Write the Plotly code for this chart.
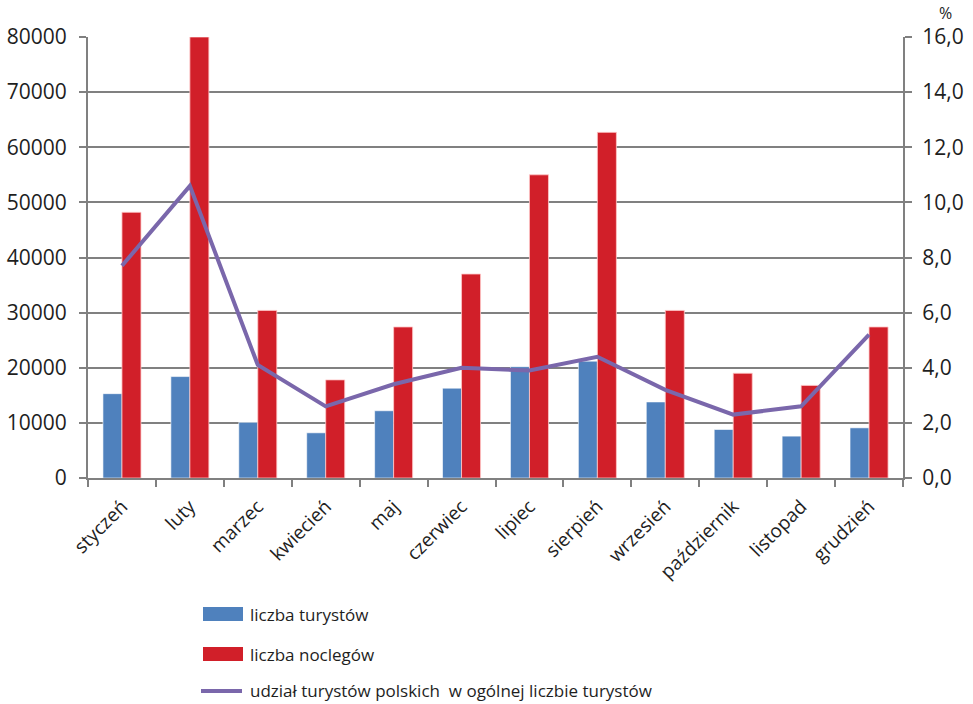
import plotly.graph_objects as go

# Monthly tourism data
months = ["styczeń", "luty", "marzec", "kwiecień", "maj", "czerwiec",
          "lipiec", "sierpień", "wrzesień", "październik", "listopad", "grudzień"]
tourists = [15300, 18400, 10100, 8200, 12200, 16300, 20200, 21200, 13800, 8800, 7600, 9100]
overnight_stays = [48200, 80000, 30400, 17800, 27400, 37000, 55000, 62700, 30400, 19000, 16800, 27400]
polish_share = [7.7, 10.6, 4.1, 2.6, 3.4, 4.0, 3.9, 4.4, 3.2, 2.3, 2.6, 5.2]

legend_labels = ["liczba turystów", "liczba noclegów",
                 "udział turystów polskich  w ogólnej liczbie turystów"]

BLUE = "#4F81BD"
RED = "#D11F29"
PURPLE = "#7A67AB"
GRID = "#808080"
TEXT = "#1E1E1E"
FONT = "Open Sans"

fig = go.Figure()
fig.add_trace(go.Bar(x=months, y=tourists, name=legend_labels[0],
                     marker=dict(color=BLUE, line=dict(color="rgba(255,255,255,0.6)", width=1))))
fig.add_trace(go.Bar(x=months, y=overnight_stays, name=legend_labels[1],
                     marker=dict(color=RED, line=dict(color="rgba(255,200,200,0.8)", width=1))))
fig.add_trace(go.Scatter(x=months, y=polish_share, name=legend_labels[2], yaxis="y2",
                         mode="lines", line=dict(color=PURPLE, width=4)))

fig.update_layout(
    width=973, height=704,
    margin=dict(l=88, r=70, t=37, b=226, autoexpand=False),
    paper_bgcolor="white", plot_bgcolor="white",
    barmode="group", bargap=0.44, bargroupgap=0,
    separators=",.",
    showlegend=False,
    font=dict(family=FONT, color=TEXT),
    xaxis=dict(
        type="category", tickangle=-45, tickson="boundaries",
        ticks="outside", ticklen=7, tickwidth=2, tickcolor=GRID,
        showline=True, linecolor=GRID, linewidth=2, showgrid=False,
        ticklabelstandoff=8, automargin=False,
        tickfont=dict(size=19, family=FONT, color=TEXT),
    ),
    yaxis=dict(
        range=[0, 80000], dtick=10000, tickformat="d",
        ticks="outside", ticklen=7, tickwidth=2, tickcolor=GRID,
        showline=True, linecolor=GRID, linewidth=2,
        showgrid=True, gridcolor=GRID, gridwidth=2, zeroline=False,
        ticklabelstandoff=8, automargin=False,
        tickfont=dict(size=21, family=FONT, color=TEXT),
    ),
    yaxis2=dict(
        range=[0, 16], dtick=2, tickformat=".1f", overlaying="y", side="right",
        ticks="outside", ticklen=7, tickwidth=2, tickcolor=GRID,
        showline=True, linecolor=GRID, linewidth=2,
        showgrid=False, zeroline=False,
        ticklabelstandoff=6, automargin=False,
        tickfont=dict(size=21, family=FONT, color=TEXT),
    ),
)

# Plot area in pixels, used to place the unit label and the legend below the chart
px_w, px_h = 815, 441
def to_paper_x(px):
    return (px - 88) / px_w
def to_paper_y(py):
    return (478 - py) / px_h

# Unit label above the right axis
fig.add_annotation(text="%", xref="paper", yref="paper",
                   x=to_paper_x(946), y=to_paper_y(13),
                   xanchor="center", yanchor="middle", showarrow=False,
                   font=dict(size=16, family=FONT, color=TEXT))

# Legend
row_y = [614, 654, 691]
for i, label in enumerate(legend_labels):
    yc = row_y[i]
    if i < 2:
        fig.add_shape(type="rect", xref="paper", yref="paper",
                      x0=to_paper_x(203), x1=to_paper_x(243),
                      y0=to_paper_y(yc - 7), y1=to_paper_y(yc + 7),
                      fillcolor=[BLUE, RED][i], line=dict(width=0))
    else:
        fig.add_shape(type="line", xref="paper", yref="paper",
                      x0=to_paper_x(201), x1=to_paper_x(242),
                      y0=to_paper_y(yc), y1=to_paper_y(yc),
                      line=dict(color=PURPLE, width=4))
    fig.add_annotation(text=label, xref="paper", yref="paper",
                       x=to_paper_x(248), y=to_paper_y(yc),
                       xanchor="left", yanchor="middle", showarrow=False,
                       font=dict(size=17, family=FONT, color=TEXT))

fig.write_html("out.html")
